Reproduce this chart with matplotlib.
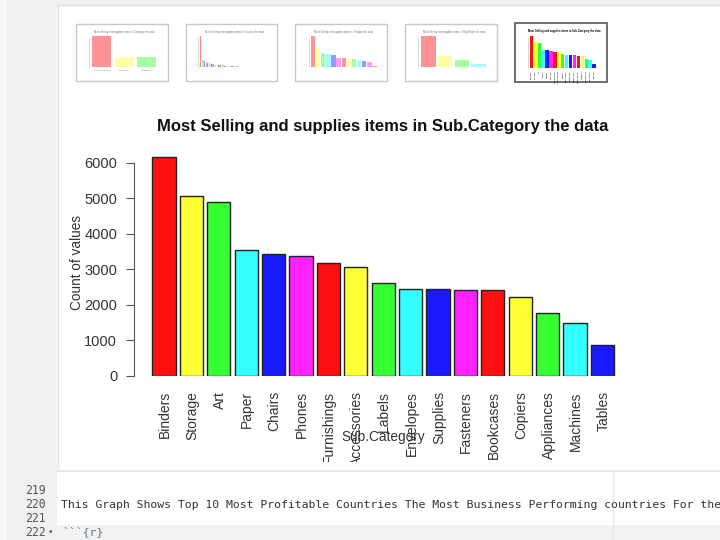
import matplotlib
matplotlib.use("Agg")
import matplotlib.pyplot as plt
from matplotlib.patches import Rectangle
from matplotlib.transforms import Bbox

W, H = 720, 540
FONT = "Liberation Sans"
MONO = "DejaVu Sans Mono"

categories = ["Binders", "Storage", "Art", "Paper", "Chairs", "Phones", "Furnishings",
              "Accessories", "Labels", "Envelopes", "Supplies", "Fasteners", "Bookcases",
              "Copiers", "Appliances", "Machines", "Tables"]
counts = [6150, 5070, 4900, 3530, 3430, 3360, 3170, 3070, 2600, 2440,
          2430, 2410, 2400, 2220, 1760, 1490, 850]
palette = ["#ff1010", "#ffff33", "#33ff33", "#33ffff", "#1a1aff", "#ff22ff"]
y_ticks = [0, 1000, 2000, 3000, 4000, 5000, 6000]

thumb_category = [100, 33, 33]
thumb_category_labels = ["Office Supplies", "Technology", "Furniture"]
thumb_country = [100, 36, 27, 22, 18, 16, 14, 13, 12, 11, 10, 9, 9, 8, 8, 7, 7, 6, 6, 5,
                 5, 5, 4, 4, 4, 3, 3, 3, 3, 2, 2, 2, 2, 2, 2, 1, 1, 1, 1, 1, 1, 1, 1, 1, 1,
                 1, 1, 1, 1, 1, 1, 1, 1, 1, 1, 1, 1, 1, 1, 1]
thumb_region = [100, 60, 46, 43, 40, 30, 29, 27, 26, 21, 18, 15, 4]
thumb_ship = [100, 35, 24, 10]

code_lines = ["219", "220", "221", "222"]
code_text = "This Graph Shows Top 10 Most Profitable Countries The Most Business Performing countries For the"

fig = plt.figure(figsize=(W / 100, H / 100), dpi=100, facecolor="white")

def axes_px(x0, y0, x1, y1, **kw):
    """Axes whose box is given in top-left based reference pixels."""
    return fig.add_axes([x0 / W, 1 - y1 / H, (x1 - x0) / W, (y1 - y0) / H], **kw)

# page chrome, in pixel coordinates
bg = axes_px(0, 0, W, H, zorder=0)
bg.set_xlim(0, W)
bg.set_ylim(H, 0)
bg.axis("off")
bg.add_patch(Rectangle((0, 0), 7, H, fc="#f6f8fa", ec="none"))
bg.add_patch(Rectangle((7, 0), W, 5, fc="#f0f0f0", ec="none"))
bg.add_patch(Rectangle((7, 0), 50, H, fc="#f0f0f0", ec="none"))
bg.add_patch(Rectangle((57, 525), W, 15, fc="#f2f2f2", ec="none"))
bg.plot([57.5, 57.5], [5, 470], color="#e3e3e3", lw=1)
bg.plot([57, W], [4.5, 4.5], color="#dddddd", lw=1)
bg.plot([57, W], [470.5, 470.5], color="#e6e6e6", lw=1.2)
bg.plot([612.5, 612.5], [471, H], color="#e6e6e6", lw=1)
for label, y in zip(code_lines, [490, 504, 518, 532]):
    bg.text(46, y, label, family=MONO, fontsize=8.3, color="#555555", ha="right", va="center")
bg.text(49, 532.5, "\u25be", family="DejaVu Sans", fontsize=5, color="#555555", ha="left", va="center")
bg.text(61, 504.5, code_text, family=MONO, fontsize=8.25, color="#333333", ha="left", va="center", clip_on=True)
bg.text(62, 532, "```{r}", family=MONO, fontsize=8.25, color="#667788", ha="left", va="center")

# thumbnails
def thumb(box, plot_box, values, title, alpha, edge, lw, ymax=100, labels=None, rot=0):
    x0, y0, x1, y1 = box
    bg.add_patch(Rectangle((x0, y0), x1 - x0, y1 - y0, fc="white", ec=edge, lw=lw, zorder=3))
    ax = axes_px(*plot_box, zorder=2)
    ax.patch.set_alpha(0)
    cols = [palette[i % 6] for i in range(len(values))]
    ax.bar(range(len(values)), values, width=0.86, color=cols, alpha=alpha, linewidth=0)
    ax.set_xlim(-0.5, len(values) - 0.5)
    ax.set_ylim(0, ymax)
    ax.axis("off")
    tcol = "#000000" if alpha == 1 else "#777777"
    # faint y axis of the miniature
    bg.plot([plot_box[0] - 2, plot_box[0] - 2], [plot_box[1] + 2, plot_box[3]], color="#bbbbbb",
            lw=0.4, zorder=4)
    bg.text((x0 + x1) / 2 + 3, y0 + 8, title, family=FONT, fontsize=1.9, color=tcol,
            fontweight="bold" if alpha == 1 else "normal", ha="center", va="center", zorder=4)
    if labels:
        for i, lab in enumerate(labels):
            ax.annotate(lab, xy=(i, 0), xycoords=("data", "axes fraction"), xytext=(0, -2),
                        textcoords="offset points", rotation=rot, ha="center", va="top",
                        family=FONT, fontsize=1.7, color=tcol, annotation_clip=False)

thumb((76, 23.5, 167.5, 81), (90.5, 36, 158, 67), thumb_category,
      "Most Selling and supplies items in Category the data", 0.45, "#c8c8c8", 1,
      labels=thumb_category_labels)
thumb((185.5, 23.5, 277, 81), (200, 36, 266, 67), thumb_country,
      "Most Selling and supplies items in Country the data", 0.5, "#c8c8c8", 1)
thumb((295, 23.5, 387, 81), (310.5, 36, 377, 67), thumb_region,
      "Most Selling and supplies items in  Region the data", 0.45, "#c8c8c8", 1)
thumb((405, 23.5, 496.5, 81), (420, 36, 487, 67), thumb_ship,
      "Most Selling and supplies items in Ship.Mode the data", 0.45, "#c8c8c8", 1)
thumb((514.5, 23, 607, 82), (529.5, 36, 596, 68), counts,
      "Most Selling and supplies items in Sub.Category the data", 1, "#707070", 1.4, ymax=6150,
      labels=categories, rot=90)

# main chart: x=0 is centred at pixel 164 with a bar pitch of 27.4 px, y=0 at pixel 375.5
PITCH = 27.4
L, R, T, B = 134, 622, 150, 375.5
ax = axes_px(L, T, R, B, zorder=5)
ax.patch.set_alpha(0)
ax.set_xlim((L - 164) / PITCH, (R - 164) / PITCH)
ax.set_ylim(0, 6000 * (B - T) / (B - 162.8))
colors = [palette[i % 6] for i in range(len(counts))]
ax.bar(range(len(counts)), counts, width=0.84, color=colors,
       edgecolor="#222222", linewidth=1.0)
for s in ["top", "right", "bottom"]:
    ax.spines[s].set_visible(False)
ax.spines["left"].set_bounds(0, 6000)
ax.spines["left"].set_color("#555555")
ax.set_yticks(y_ticks)
ax.tick_params(axis="y", length=5.5, width=0.8, color="#555555", labelsize=10.5,
               labelcolor="#333333", pad=6.6)
for t in ax.get_yticklabels():
    t.set_fontfamily(FONT)
ax.set_xticks([])
ax.set_ylabel("Count of values", family=FONT, fontsize=9.8, color="#333333", labelpad=0.5)

clip = Bbox([[0, H - 462], [W, H]])
for label, x in zip(categories, range(len(counts))):
    t = ax.annotate(label, xy=(x, 0), xycoords=("data", "axes fraction"),
                    xytext=(0.7, -11.3), textcoords="offset points", rotation=90,
                    ha="center", va="top", family=FONT, fontsize=10, color="#333333",
                    annotation_clip=False)
    t.set_clip_on(True)
    t.set_clip_box(clip)

top = axes_px(0, 0, W, H, zorder=6)
top.set_xlim(0, W)
top.set_ylim(H, 0)
top.axis("off")
top.text(383, 126, "Most Selling and supplies items in Sub.Category the data", family=FONT,
         fontsize=12, fontweight="bold", color="#111111", ha="center", va="center")
top.text(383, 436.5, "Sub.Category", family=FONT, fontsize=9.8, color="#333333",
         ha="center", va="center")

fig.savefig("out.png", dpi=100, facecolor="white")
